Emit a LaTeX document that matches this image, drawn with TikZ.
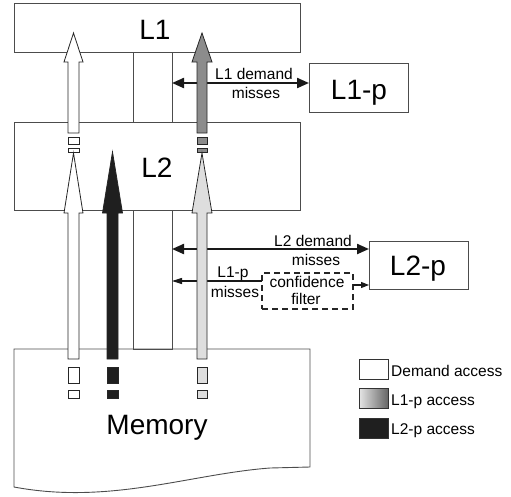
\documentclass[tikz,border=0pt]{standalone}
\usepackage{fontspec}
\setmainfont{Liberation Sans}
\usetikzlibrary{arrows.meta}
\newcommand{\myarrow}[7]{% x, tip y, head base y, bottom y, head half w, shaft half w, fill
  \filldraw[blk, fill=#7] (#1,#2) -- (#1+#5,#3) -- (#1+#6,#3) -- (#1+#6,#4) -- (#1-#6,#4) -- (#1-#6,#3) -- (#1-#5,#3) -- cycle;}
\newcommand{\mydash}[4]{% x, half w, fill, bottom group start y
  \filldraw[blk, fill=#3] (#1-#2,#4) rectangle (#1+#2,#4+7);
  \filldraw[blk, fill=#3] (#1-#2,#4+11) rectangle (#1+#2,#4+15);}
\newcommand{\mydashlow}[3]{%
  \filldraw[blk, fill=#3] (#1-#2,367) rectangle (#1+#2,383);
  \filldraw[blk, fill=#3] (#1-#2,390) rectangle (#1+#2,398);}
\begin{document}
\begin{tikzpicture}[x=1pt,y=-1pt,
  box/.style={draw=black!70, line width=0.9pt, inner sep=0pt, outer sep=0pt},
  big/.style={font=\fontsize{28}{30}\selectfont, inner sep=0pt, anchor=base},
  small/.style={font=\fontsize{15.5}{17}\selectfont, inner sep=0pt, anchor=base},
  blk/.style={draw=black!85, line width=0.8pt},
  dbl/.style={line width=2.2pt, black!90, {Triangle[length=12pt,width=10pt]}-{Triangle[length=12pt,width=10pt]}},
  thin/.style={line width=1.1pt, black!90, -{Triangle[length=10pt,width=6pt]}},
  ]
\useasboundingbox (0,0) rectangle (511,496);
% boxes
\node[box, minimum width=286pt, minimum height=49pt] (L1) at (157,27.5) {};
\node[box, minimum width=286pt, minimum height=88pt] (L2) at (157,166) {};
\node[box, minimum width=39pt, minimum height=70pt] (busA) at (152.5,87) {};
\node[box, minimum width=39pt, minimum height=139pt] (busB) at (152.5,279.5) {};
\node[box, minimum width=99pt, minimum height=49pt] (L1p) at (358.5,87.5) {};
\node[box, minimum width=99pt, minimum height=48pt] (L2p) at (418.5,265) {};
\node[box, dashed, dash pattern=on 6pt off 4pt, line width=1.3pt, draw=black!85, minimum width=91pt, minimum height=36pt] (conf) at (307.5,291) {};
% memory
\draw[draw=black!70, line width=0.9pt] (14,487) -- (14,349) -- (310,349) -- (310,467) -- (270,468)
   .. controls (190,474) and (110,505) .. (14,487) -- cycle;
% coordinates for connectors
\coordinate (y83) at (0,83);
\coordinate (y249) at (0,249);
\coordinate (y281) at (0,281);
\coordinate (y285) at (0,285);
% connectors
\draw[dbl] (busA.east |- y83) -- (L1p.west |- y83);
\draw[dbl] (busB.east |- y249) -- (L2p.west |- y249);
\draw[thin] (conf.west |- y281) -- (busB.east |- y281);
\draw[thin, -{Triangle[length=8pt,width=6pt]}] (conf.east |- y285) -- (L2p.west |- y285);
% block arrows: white
\myarrow{73.5}{33}{62}{133}{9.5}{5.5}{white}
\mydash{73.5}{5.5}{white}{137}
\myarrow{73.5}{153}{213}{359}{9.5}{5.5}{white}
\mydashlow{73.5}{5.5}{white}
% black
\myarrow{112.5}{152}{213}{359}{10}{5.5}{black!88}
\mydashlow{112.5}{5.5}{black!88}
% gray
\myarrow{202}{33}{62}{133}{10}{5}{black!45}
\mydash{202}{5}{black!45}{137}
\myarrow{202}{153}{213}{359}{10}{5}{black!13}
\mydashlow{202}{5}{black!13}
% labels
\node[big] (tL1) at (155,39) {L1};
\node[big] (tL2) at (157,177) {L2};
\node[big] (tMem) at (157,434) {Memory};
\node[big] (tL1p) at (359,99) {L1-p};
\node[big] (tL2p) at (418,275) {L2-p};
\node[small] (a1) at (254,79) {L1 demand};
\node[small] (a2) at (256,98) {misses};
\node[small] (b1) at (313,246) {L2 demand};
\node[small] (b2) at (316,265) {misses};
\node[small] (c1) at (233,277) {L1-p};
\node[small] (c2) at (235,297) {misses};
\node[small] (d1) at (307,287) {confidence};
\node[small] (d2) at (306,304) {filter};
% legend
\node[box, draw=black!80, minimum width=29pt, minimum height=20pt] (lg1) at (373.5,369) {};
\node[box, draw=black!80, left color=black!10, right color=black!60, minimum width=29pt, minimum height=20pt] (lg2) at (373.5,398) {};
\node[box, draw=black!80, fill=black!88, minimum width=29pt, minimum height=20pt] (lg3) at (373.5,428) {};
\node[small, anchor=base west] (lt1) at (391,376) {Demand access};
\node[small, anchor=base west] (lt2) at (391,405) {L1-p access};
\node[small, anchor=base west] (lt3) at (391,434) {L2-p access};
\end{tikzpicture}
\end{document}
